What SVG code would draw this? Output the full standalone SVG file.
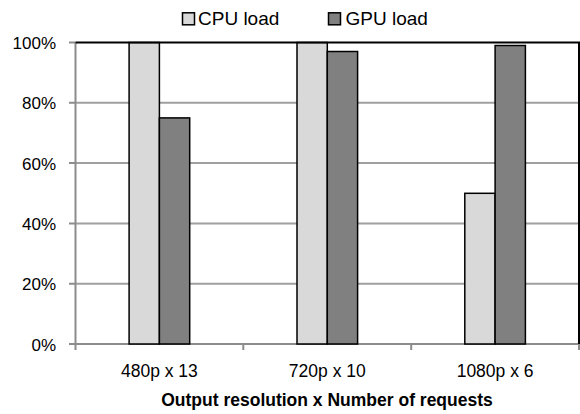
<svg xmlns="http://www.w3.org/2000/svg" width="580" height="414" viewBox="0 0 580 414">
<style>
text{font-family:"Liberation Sans",Arial,sans-serif;fill:#000}
.tick{font-size:17px;text-anchor:end}
.cat{font-size:17.5px;text-anchor:middle}
.leg{font-size:19px}
.title{font-size:17.5px;font-weight:bold;text-anchor:middle}
.grid{stroke:#a0a0a0;stroke-width:2;fill:none}
.axis{stroke:#8c8c8c;stroke-width:2;fill:none}
.cpu{fill:#d9d9d9;stroke:#000;stroke-width:1.5}
.gpu{fill:#808080;stroke:#000;stroke-width:1.5}
</style>
<rect width="580" height="414" fill="#fff"/>
<g id="gridlines">
<path class="grid" d="M75.5 102.8H579M75.5 163.1H579M75.5 223.4H579M75.5 283.7H579"/>
</g>
<g id="axes">
<path class="axis" d="M75.5 42.5V344M69 42.5H75.5M69 102.8H75.5M69 163.1H75.5M69 223.4H75.5M69 283.7H75.5M69 344H579"/>
<path class="axis" d="M75.5 344V350M243.3 344V350M411.2 344V350M579 344V350"/>
</g>
<g id="bars">
<rect id="cpu1" class="cpu" x="129.1" y="42.5" width="30.3" height="301.5"/>
<rect id="gpu1" class="gpu" x="159.4" y="117.9" width="30.3" height="226.1"/>
<rect id="cpu2" class="cpu" x="297" y="42.5" width="30.3" height="301.5"/>
<rect id="gpu2" class="gpu" x="327.3" y="51.5" width="30.3" height="292.5"/>
<rect id="cpu3" class="cpu" x="464.8" y="193.3" width="30.3" height="150.7"/>
<rect id="gpu3" class="gpu" x="495.1" y="45.5" width="30.3" height="298.5"/>
</g>
<g id="border">
<path d="M75.5 42.5H579V344" fill="none" stroke="#000" stroke-width="2"/>
</g>
<g id="ytick-labels">
<text class="tick" x="56" y="49">100%</text>
<text class="tick" x="56" y="109.3">80%</text>
<text class="tick" x="56" y="169.6">60%</text>
<text class="tick" x="56" y="229.9">40%</text>
<text class="tick" x="56" y="290.2">20%</text>
<text class="tick" x="56" y="350.5">0%</text>
</g>
<g id="xtick-labels">
<text class="cat" x="159.4" y="377">480p x 13</text>
<text class="cat" x="327.3" y="377">720p x 10</text>
<text class="cat" x="495.1" y="377">1080p x 6</text>
</g>
<text class="title" x="327" y="406">Output resolution x Number of requests</text>
<g id="legend">
<rect class="cpu" x="182.5" y="12.8" width="12" height="12" stroke-width="1"/>
<text class="leg" x="198" y="25.3">CPU load</text>
<rect class="gpu" x="328.5" y="12.8" width="12" height="12" stroke-width="1"/>
<text class="leg" x="345.5" y="25.3">GPU load</text>
</g>
</svg>
